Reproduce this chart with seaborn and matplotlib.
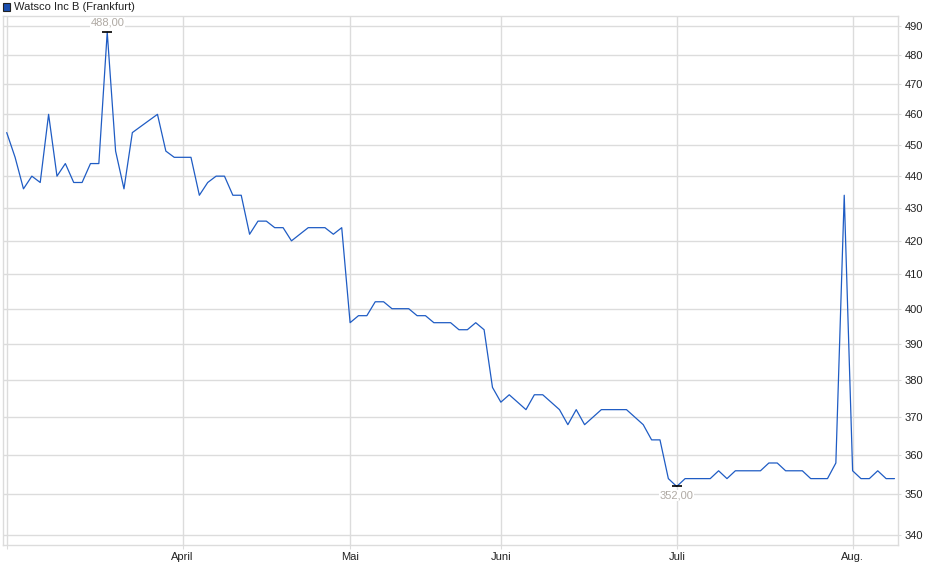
import numpy as np
import pandas as pd
import matplotlib
matplotlib.use("Agg")
import matplotlib.pyplot as plt
from matplotlib.patches import Rectangle
from matplotlib.ticker import FixedLocator, NullLocator, FixedFormatter
import seaborn as sns

# daily closing prices (EUR), one per trading day
prices = [454, 446, 436, 440, 438, 460, 440, 444, 438, 438,
          444, 444, 488, 448, 436, 454, 456, 458, 460, 448,
          446, 446, 446, 434, 438, 440, 440, 434, 434, 422,
          426, 426, 424, 424, 420, 422, 424, 424, 424, 422,
          424, 396, 398, 398, 402, 402, 400, 400, 400, 398,
          398, 396, 396, 396, 394, 394, 396, 394, 378, 374,
          376, 374, 372, 376, 376, 374, 372, 368, 372, 368,
          370, 372, 372, 372, 372, 370, 368, 364, 364, 354,
          352, 354, 354, 354, 354, 356, 354, 356, 356, 356,
          356, 358, 358, 356, 356, 356, 354, 354, 354, 358,
          434, 356, 354, 354, 356, 354, 354]

# month ticks at trading-day index
month_pos = [0, 21, 41, 59, 80, 101]
month_labels = ["", "April", "Mai", "Juni", "Juli", "Aug."]
y_ticks = [340, 350, 360, 370, 380, 390, 400, 410, 420, 430, 440, 450, 460, 470, 480, 490]

df = pd.DataFrame({"day": np.arange(len(prices)), "price": prices})

sns.set_style("white")
plt.rcParams["font.family"] = ["Liberation Sans", "DejaVu Sans"]

line_color = "#1f5cc4"
grid_color = "#dcdcdc"

fig = plt.figure(figsize=(9.4, 5.79), dpi=100)
ax = fig.add_axes([2.7 / 940, 34 / 579, (898 - 2.7) / 940, (545 - 16) / 579])

sns.lineplot(data=df, x="day", y="price", color=line_color, linewidth=0.9, ax=ax)

ax.set_yscale("log")
ax.set_ylim(337.5, 493.7)
ax.set_xlim(-0.48, 106.42)

ax.yaxis.set_major_locator(FixedLocator(y_ticks))
ax.yaxis.set_major_formatter(FixedFormatter([str(t) for t in y_ticks]))
ax.yaxis.set_minor_locator(NullLocator())
ax.yaxis.tick_right()
ax.set_xticks(month_pos)
ax.set_xticklabels(month_labels)

ax.grid(True, color=grid_color, linewidth=1)
for s in ax.spines.values():
    s.set_color(grid_color)
    s.set_linewidth(1)
ax.tick_params(axis="y", right=True, length=2, color=grid_color, labelsize=8, pad=3, labelcolor="#222222")
ax.tick_params(axis="x", bottom=True, length=3, color=grid_color, labelsize=8, pad=2, labelcolor="#222222")
ax.set_xlabel("")
ax.set_ylabel("")

# high / low markers
hi = int(np.argmax(prices))
lo = int(np.argmin(prices))
ax.plot([hi, lo], [prices[hi], prices[lo]], linestyle="none", marker="_",
        markersize=6.5, markeredgewidth=1.2, color="black", zorder=5)
label_color = "#b0aaa4"
box = dict(facecolor="white", edgecolor="none", pad=0.5)
ax.annotate(f"{prices[hi]:.2f}".replace(".", ","), (hi, prices[hi]), xytext=(0, 3),
            textcoords="offset points", ha="center", va="bottom",
            fontsize=8, color=label_color, bbox=box)
ax.annotate(f"{prices[lo]:.2f}".replace(".", ","), (lo, prices[lo]), xytext=(0, -3),
            textcoords="offset points", ha="center", va="top",
            fontsize=8, color=label_color, bbox=box)

# legend in the top-left corner
fig.patches.append(Rectangle((3 / 940, 1 - 10.5 / 579), 7 / 940, 7 / 579,
                             transform=fig.transFigure, facecolor="#1a4fb0",
                             edgecolor="#222222", linewidth=0.8))
fig.text(14 / 940, 1 - 7 / 579, "Watsco Inc B (Frankfurt)", fontsize=8,
         va="center", ha="left", color="#222222")

fig.savefig("out.png", dpi=100)
